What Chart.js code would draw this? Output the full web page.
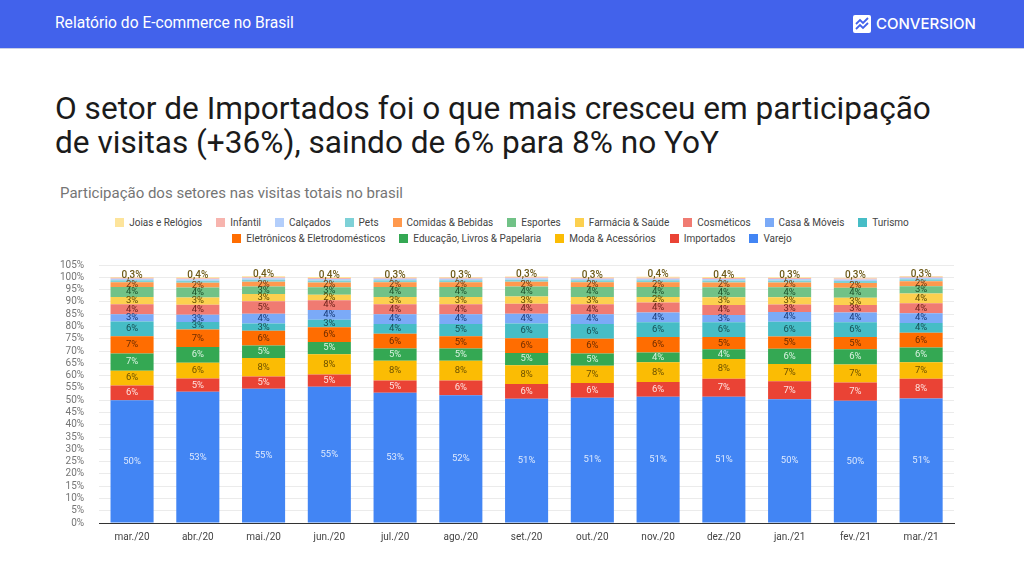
<!DOCTYPE html>
<html lang="pt-BR">
<head>
<meta charset="utf-8">
<script src="https://cdn.jsdelivr.net/npm/chart.js@4.4.1/dist/chart.umd.min.js"></script>
<style>
  html, body { margin: 0; padding: 0; background: #fff; }
  body { width: 1024px; height: 576px; position: relative; overflow: hidden; font-family: Roboto, sans-serif; }
  .header { position: absolute; left: 0; top: 0; width: 1024px; height: 48px; background: #4262eb; border-bottom: 1px solid #c9cfe6; }
  .hdr-title { position: absolute; left: 55px; top: 14px; color: #fff; font-size: 15.6px; }
  .logo { position: absolute; left: 853px; top: 14px; display: flex; align-items: center; color: #fff; font-family: Inter, Roboto, sans-serif; font-size: 15px; font-weight: 500; }
  .logo svg { margin-right: 5px; }
  h1 { position: absolute; left: 55px; top: 92px; margin: 0; font-size: 31.6px; line-height: 34px; font-weight: 400; color: #1b1b1b; white-space: nowrap; }
  .subtitle { position: absolute; left: 60px; top: 184px; font-size: 15px; color: #757575; }
  .legend { position: absolute; left: 0; width: 1024px; top: 214px; font-size: 10px; color: #444; }
  .legend .row { display: flex; justify-content: center; height: 16px; align-items: center; }
  .legend .item { display: flex; align-items: center; margin: 0 7px; }
  .legend .box { width: 9px; height: 9px; margin-right: 5px; }
  .chart-box { position: absolute; left: 40px; top: 244px; width: 940px; height: 307px; }
</style>
</head>
<body>
<div class="header">
  <span class="hdr-title">Relatório do E-commerce no Brasil</span>
  <div class="logo">
    <svg width="18" height="18" viewBox="0 0 18 18"><rect x="0" y="0" width="18" height="18" rx="2" fill="#fff"/><path d="M3 9 L7 5 L10 8 L15 3" stroke="#4262eb" stroke-width="1.8" fill="none"/><path d="M3 14 L7 10 L10 13 L15 8" stroke="#4262eb" stroke-width="1.8" fill="none"/></svg>
    CONVERSION
  </div>
</div>
<h1>O setor de Importados foi o que mais cresceu em participação<br>de visitas (+36%), saindo de 6% para 8% no YoY</h1>
<div class="subtitle">Participação dos setores nas visitas totais no brasil</div>
<div class="legend" id="legend"></div>
<div class="chart-box"><canvas id="chart"></canvas></div>
<script>
const months = ['mar./20', 'abr./20', 'mai./20', 'jun./20', 'jul./20', 'ago./20', 'set./20', 'out./20', 'nov./20', 'dez./20', 'jan./21', 'fev./21', 'mar./21'];

// share of visits (%), bottom of the stack first
const varejo      = [50, 53.4, 54.6, 55.4, 53, 52, 50.6, 51, 51.4, 51.4, 50.4, 49.8, 50.7];
const importados  = [6, 5.4, 5, 5, 5, 6, 6, 6, 6, 7.3, 7.3, 7.4, 8];
const moda        = [6, 6.4, 7.6, 8.3, 8, 8, 7.6, 7, 8, 8, 7, 7.3, 6.7];
const educacao    = [7, 6.4, 5, 5, 5, 5, 5, 5, 4, 4, 6.2, 6.2, 6];
const eletronicos = [7, 7.2, 6, 6, 6, 5, 6, 6, 6.3, 5, 5, 5, 6];
const turismo     = [6, 3, 3, 3, 4, 5, 6, 6, 6, 6, 6, 6, 4];
const casa        = [3, 3, 4, 4, 4, 4, 4, 4, 4, 3, 4, 4, 4];
const cosmeticos  = [4, 4, 5, 4, 4, 4, 4, 4, 4, 4, 3, 3, 4];
const farmacia    = [3, 3, 3, 2.2, 3, 3, 3, 3, 2.3, 3.2, 3, 3, 4];
const esportes    = [4, 4, 3, 3, 4, 4, 4, 4, 4, 4, 4, 4, 3];
const comidas     = [2, 2, 2, 2, 2, 2, 2, 2, 2, 2, 2, 2, 2];
const pets        = [0.8, 0.8, 0.8, 0.8, 0.8, 0.8, 0.8, 0.8, 0.8, 0.8, 0.8, 0.8, 0.8];
const calcados    = [0.6, 0.6, 0.6, 0.6, 0.6, 0.6, 0.6, 0.6, 0.6, 0.6, 0.6, 0.6, 0.6];
const infantil    = [0.4, 0.4, 0.4, 0.4, 0.4, 0.4, 0.4, 0.4, 0.4, 0.4, 0.4, 0.4, 0.4];
const joias       = [0.3, 0.4, 0.4, 0.4, 0.3, 0.3, 0.3, 0.3, 0.4, 0.4, 0.3, 0.3, 0.3];

const yTicks = [0, 5, 10, 15, 20, 25, 30, 35, 40, 45, 50, 55, 60, 65, 70, 75, 80, 85, 90, 95, 100, 105];

const series = [
  { label: 'Varejo', data: varejo, color: '#4285f4', text: '#dce8fd', show: true },
  { label: 'Importados', data: importados, color: '#ea4335', text: '#fde2de', show: true },
  { label: 'Moda & Acessórios', data: moda, color: '#fbbc04', text: '#6e5200', show: true },
  { label: 'Educação, Livros & Papelaria', data: educacao, color: '#34a853', text: '#d9f2e0', show: true },
  { label: 'Eletrônicos & Eletrodomésticos', data: eletronicos, color: '#ff6d01', text: '#6e2c00', show: true },
  { label: 'Turismo', data: turismo, color: '#46bdc6', text: '#174f54', show: true },
  { label: 'Casa & Móveis', data: casa, color: '#7baaf7', text: '#173a78', show: true },
  { label: 'Cosméticos', data: cosmeticos, color: '#f07b72', text: '#6b1f18', show: true },
  { label: 'Farmácia & Saúde', data: farmacia, color: '#fcd04f', text: '#5e4a00', show: true },
  { label: 'Esportes', data: esportes, color: '#71c287', text: '#1c4f2a', show: true },
  { label: 'Comidas & Bebidas', data: comidas, color: '#ff994d', text: '#6b3a10', show: true },
  { label: 'Pets', data: pets, color: '#7ed1d7', text: '#1d5256', show: false },
  { label: 'Calçados', data: calcados, color: '#b3cefb', text: '#294a80', show: false },
  { label: 'Infantil', data: infantil, color: '#f7b4ae', text: '#7a3028', show: false },
  { label: 'Joias e Relógios', data: joias, color: '#fde49b', text: '#6d5a18', show: 'top' }
];

// legend: top of the stack first, first ten on the upper row
const legendOrder = series.slice().reverse();
const legendEl = document.getElementById('legend');
[legendOrder.slice(0, 10), legendOrder.slice(10)].forEach((rowItems) => {
  const row = document.createElement('div');
  row.className = 'row';
  rowItems.forEach((s) => {
    const item = document.createElement('div');
    item.className = 'item';
    item.innerHTML = '<span class="box" style="background:' + s.color + '"></span><span>' + s.label + '</span>';
    row.appendChild(item);
  });
  legendEl.appendChild(row);
});

function fmt(v) {
  if (v < 1) return v.toFixed(1).replace('.', ',') + '%';
  return Math.round(v) + '%';
}

const segLabels = {
  id: 'segLabels',
  afterDatasetsDraw(chart) {
    const ctx = chart.ctx;
    ctx.save();
    ctx.textAlign = 'center';
    ctx.textBaseline = 'middle';
    chart.data.datasets.forEach((ds, di) => {
      const s = series[di];
      if (!s.show) return;
      const meta = chart.getDatasetMeta(di);
      meta.data.forEach((bar, i) => {
        const v = ds.data[i];
        ctx.fillStyle = s.text;
        if (s.show === 'top') {
          ctx.font = '500 10px Roboto';
          ctx.fillText(fmt(v), bar.x, bar.y - 2);
        } else {
          ctx.font = '9.5px Roboto';
          ctx.fillText(fmt(v), bar.x, (bar.y + bar.base) / 2);
        }
      });
    });
    ctx.restore();
  }
};

new Chart(document.getElementById('chart'), {
  type: 'bar',
  data: {
    labels: months,
    datasets: series.map((s) => ({
      label: s.label,
      data: s.data,
      backgroundColor: s.color,
      borderWidth: 0,
      barPercentage: 1,
      categoryPercentage: 0.655
    }))
  },
  options: {
    responsive: true,
    maintainAspectRatio: false,
    animation: false,
    layout: { padding: { left: 5, right: 26, top: 5, bottom: 8 } },
    plugins: {
      legend: { display: false },
      tooltip: { enabled: false }
    },
    scales: {
      x: {
        stacked: true,
        grid: { display: false },
        border: { color: '#333', width: 1 },
        ticks: { color: '#444', font: { family: 'Roboto', size: 10 }, padding: 0 }
      },
      y: {
        stacked: true,
        min: 0,
        max: 105,
        afterBuildTicks(axis) { axis.ticks = yTicks.map((v) => ({ value: v })); },
        grid: { color: '#ebebeb', drawTicks: false },
        border: { display: false },
        ticks: {
          color: '#757575',
          font: { family: 'Roboto', size: 10 },
          padding: 15,
          autoSkip: false,
          callback: (v) => v + '%'
        }
      }
    }
  },
  plugins: [segLabels]
});
</script>
</body>
</html>
